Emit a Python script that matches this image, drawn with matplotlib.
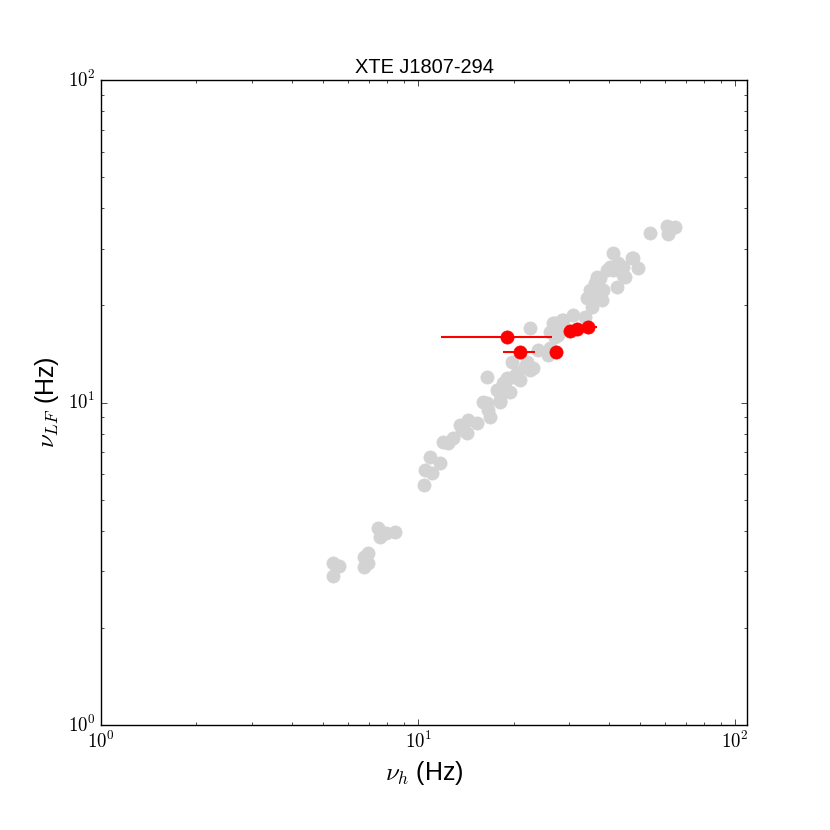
import numpy as np
import matplotlib
matplotlib.use('Agg')
import matplotlib.pyplot as plt
from matplotlib.ticker import FuncFormatter

# gray comparison sample (nu_h, nu_LF)
gray_nuh = [5.39, 5.63, 5.39, 6.75, 6.96, 6.75, 6.96, 7.48, 7.60, 7.90, 8.45,
            10.45, 10.52, 10.91, 11.07, 11.73, 11.99, 12.43, 12.90, 13.57, 14.27,
            14.38, 15.35, 13.77, 16.87, 16.51, 18.14, 16.03, 16.63, 16.51, 17.88,
            18.54, 19.09, 19.80, 20.53, 20.98, 21.76, 22.56, 23.06, 23.91, 22.56,
            25.71, 26.09, 26.66, 27.05, 27.45, 28.67, 30.83, 33.64, 27.05, 28.47,
            26.09, 27.65, 22.07, 19.94, 18.81, 17.75, 19.51, 18.14, 34.88, 35.39,
            36.17, 37.51, 38.34, 39.47, 41.23, 41.23, 42.76, 44.35, 47.33, 49.43,
            40.34, 36.70, 44.98, 42.45, 34.88, 36.70, 34.13, 38.06, 47.67, 44.35,
            53.94, 61.03, 64.67, 61.47]
gray_nulf = [3.18, 3.11, 2.90, 3.32, 3.41, 3.09, 3.18, 4.08, 3.83, 3.94, 3.97,
             5.55, 6.18, 6.78, 6.04, 6.49, 7.54, 7.49, 7.76, 8.51, 8.04,
             8.83, 8.64, 8.22, 9.02, 9.96, 10.04, 10.04, 9.48, 12.00, 10.93,
             11.49, 11.91, 13.35, 12.35, 11.74, 12.89, 12.61, 12.79, 14.55, 17.02,
             14.04, 14.76, 17.64, 15.97, 16.78, 18.02, 18.67, 18.41, 17.64, 18.02,
             16.54, 16.19, 13.35, 12.00, 11.58, 10.93, 10.78, 10.18, 21.24, 19.78,
             23.47, 24.32, 22.33, 25.76, 29.08, 25.76, 27.08, 24.85, 28.06, 26.13,
             26.32, 24.50, 24.50, 22.81, 22.33, 21.86, 21.09, 20.79, 28.06, 26.32,
             33.54, 35.26, 35.01, 33.30]

# XTE J1807-294 points
src_nuh = [19.09, 20.98, 27.2, 30.2, 31.7, 34.4]
src_nuh_err = [7.3, 2.4, 0.0, 0.0, 0.0, 2.3]
src_nulf = [15.97, 14.35, 14.35, 16.66, 16.9, 17.1]

plt.style.use('classic')
plt.rcParams['font.family'] = ['Liberation Sans', 'DejaVu Sans']
plt.rcParams['mathtext.fontset'] = 'cm'

fig = plt.figure(figsize=(8.3, 8.3), facecolor='white')
ax = fig.add_axes([0.1217, 0.1265, 0.7783, 0.7771])

ax.plot(gray_nuh, gray_nulf, 'o', color='lightgray', mec='lightgray', ms=9.5)
ax.errorbar(src_nuh, src_nulf, xerr=src_nuh_err, fmt='o', color='red', mec='red',
            ms=9.5, elinewidth=1.5, capsize=0)

ax.set_xscale('log')
ax.set_yscale('log')
ax.set_xlim(1, 109)
ax.set_ylim(1, 100)

# decade labels in computer modern, like the old log formatter
decade_fmt = FuncFormatter(lambda v, pos: r'$\mathrm{10^{%d}}$' % round(np.log10(v)))
ax.xaxis.set_major_formatter(decade_fmt)
ax.yaxis.set_major_formatter(decade_fmt)
ax.tick_params(labelsize=13.5)

ax.set_xlabel(r'$\nu_h$ (Hz)', fontsize=18)
ax.set_ylabel(r'$\nu_{LF}$ (Hz)', fontsize=18)
ax.set_title('XTE J1807-294', fontsize=14.4)

fig.savefig('out.png', dpi=100, facecolor='white')
